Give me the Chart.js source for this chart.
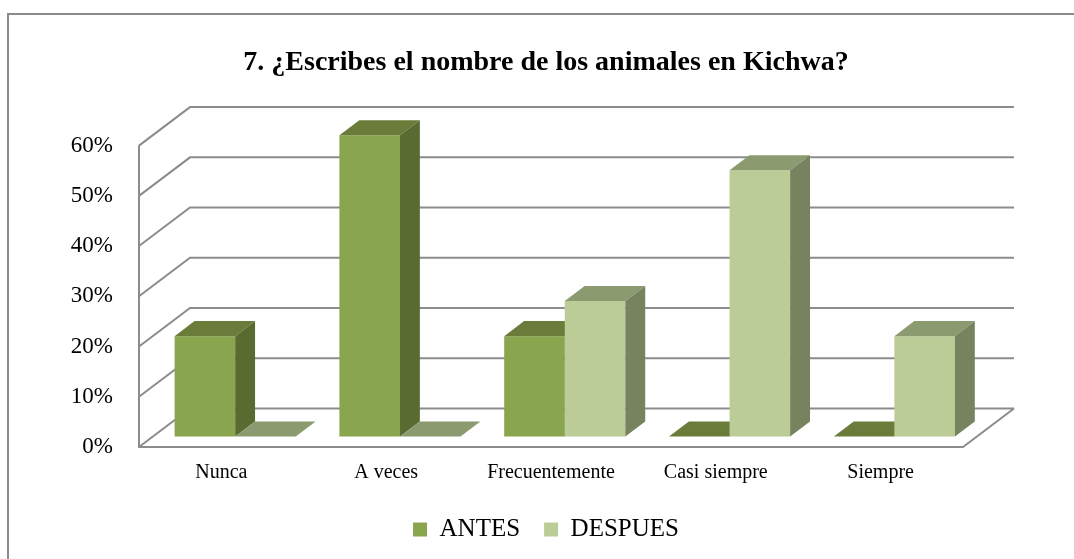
<!DOCTYPE html>
<html>
<head>
<meta charset="utf-8">
<script src="https://cdn.jsdelivr.net/npm/chart.js@4"></script>
<style>
  body { margin: 0; background: #fff; }
  canvas { display: block; }
</style>
</head>
<body>
<canvas id="chart" width="1074" height="559"></canvas>
<script>
const categories = ['Nunca', 'A veces', 'Frecuentemente', 'Casi siempre', 'Siempre'];
const antes = [20, 60, 20, 0, 0];
const despues = [0, 0, 27, 53, 20];
const yTicks = [0, 10, 20, 30, 40, 50, 60];

// front / top / side colours for each series
const faces = [
  { front: '#89a54e', top: '#6b7c3a', side: '#5a6b32' },
  { front: '#bbcc96', top: '#8c9a70', side: '#77835f' }
];

// oblique 3D look: depth of the floor, where bars sit in it and how deep they are
const DEPTH_X = 51, DEPTH_Y = -38.5;
const BAR_OFFSET = 0.27, BAR_DEPTH = 0.39;

const threeD = {
  id: 'threeD',
  beforeDraw(chart) {
    const ctx = chart.ctx;
    ctx.save();
    ctx.fillStyle = '#fff';
    ctx.fillRect(0, 0, chart.width, chart.height);
    ctx.strokeStyle = '#8a8a8a';
    ctx.lineWidth = 2;
    ctx.strokeRect(8, 14, chart.width + 20, chart.height + 20);
    ctx.restore();
  },
  beforeDatasetsDraw(chart) {
    const { ctx, chartArea: a, scales: { y } } = chart;
    ctx.save();
    ctx.strokeStyle = '#8c8c8c';
    ctx.lineWidth = 2;
    ctx.beginPath();
    yTicks.forEach(t => {
      const py = y.getPixelForValue(t);
      ctx.moveTo(a.left, py);
      ctx.lineTo(a.left + DEPTH_X, py + DEPTH_Y);
      ctx.lineTo(a.right + DEPTH_X, py + DEPTH_Y);
    });
    ctx.moveTo(a.left, a.top);
    ctx.lineTo(a.left, a.bottom);
    ctx.lineTo(a.right, a.bottom);
    ctx.lineTo(a.right + DEPTH_X, a.bottom + DEPTH_Y);
    ctx.stroke();
    ctx.restore();
  },
  // bars are drawn below, category by category, so the draw order is right
  beforeDatasetDraw() {
    return false;
  },
  afterDatasetsDraw(chart) {
    const ctx = chart.ctx;
    const dx = BAR_DEPTH * DEPTH_X, dy = BAR_DEPTH * DEPTH_Y;
    ctx.save();
    ctx.translate(BAR_OFFSET * DEPTH_X, BAR_OFFSET * DEPTH_Y);
    categories.forEach((c, i) => {
      chart.data.datasets.forEach((ds, d) => {
        const bar = chart.getDatasetMeta(d).data[i];
        const { x, y, base, width } = bar.getProps(['x', 'y', 'base', 'width'], true);
        const l = x - width / 2, r = x + width / 2;
        bar.draw(ctx);
        ctx.fillStyle = faces[d].top;
        ctx.beginPath();
        ctx.moveTo(l, y);
        ctx.lineTo(r, y);
        ctx.lineTo(r + dx, y + dy);
        ctx.lineTo(l + dx, y + dy);
        ctx.closePath();
        ctx.fill();
        if (base - y > 0.5) {
          ctx.fillStyle = faces[d].side;
          ctx.beginPath();
          ctx.moveTo(r, y);
          ctx.lineTo(r + dx, y + dy);
          ctx.lineTo(r + dx, base + dy);
          ctx.lineTo(r, base);
          ctx.closePath();
          ctx.fill();
        }
      });
    });
    ctx.restore();
  }
};

new Chart(document.getElementById('chart'), {
  type: 'bar',
  data: {
    labels: categories,
    datasets: [
      { label: 'ANTES', data: antes, backgroundColor: faces[0].front },
      { label: 'DESPUES', data: despues, backgroundColor: faces[1].front }
    ]
  },
  options: {
    responsive: false,
    animation: false,
    layout: { padding: { left: 18, right: 0, top: 0, bottom: 7 } },
    datasets: { bar: { categoryPercentage: 0.735, barPercentage: 1.0, borderWidth: 0 } },
    scales: {
      x: {
        grid: { display: false, drawTicks: false },
        border: { display: false },
        ticks: { color: '#000', padding: 14, font: { family: 'Liberation Serif', size: 20 } },
        afterFit: s => { s.height = 46; }
      },
      y: {
        min: yTicks[0],
        max: yTicks[yTicks.length - 1],
        grid: { display: false, drawTicks: false },
        border: { display: false },
        ticks: {
          stepSize: 10,
          color: '#000',
          padding: 26,
          font: { family: 'Liberation Serif', size: 23 },
          callback: v => v + '%'
        },
        afterFit: s => { s.width = 121; }
      },
      yRight: {
        position: 'right',
        grid: { display: false, drawTicks: false },
        border: { display: false },
        ticks: { display: false },
        afterFit: s => { s.width = 111; }
      }
    },
    plugins: {
      title: {
        display: true,
        text: '7. ¿Escribes el nombre de los animales en Kichwa?',
        color: '#000',
        font: { family: 'Liberation Serif', size: 28, weight: 'bold' },
        padding: { top: 46, bottom: 66 }
      },
      legend: {
        position: 'bottom',
        labels: {
          color: '#000',
          boxWidth: 14,
          boxHeight: 14,
          padding: 24,
          font: { family: 'Liberation Serif', size: 25 }
        }
      },
      tooltip: { enabled: false }
    }
  },
  plugins: [threeD]
});
</script>
</body>
</html>
